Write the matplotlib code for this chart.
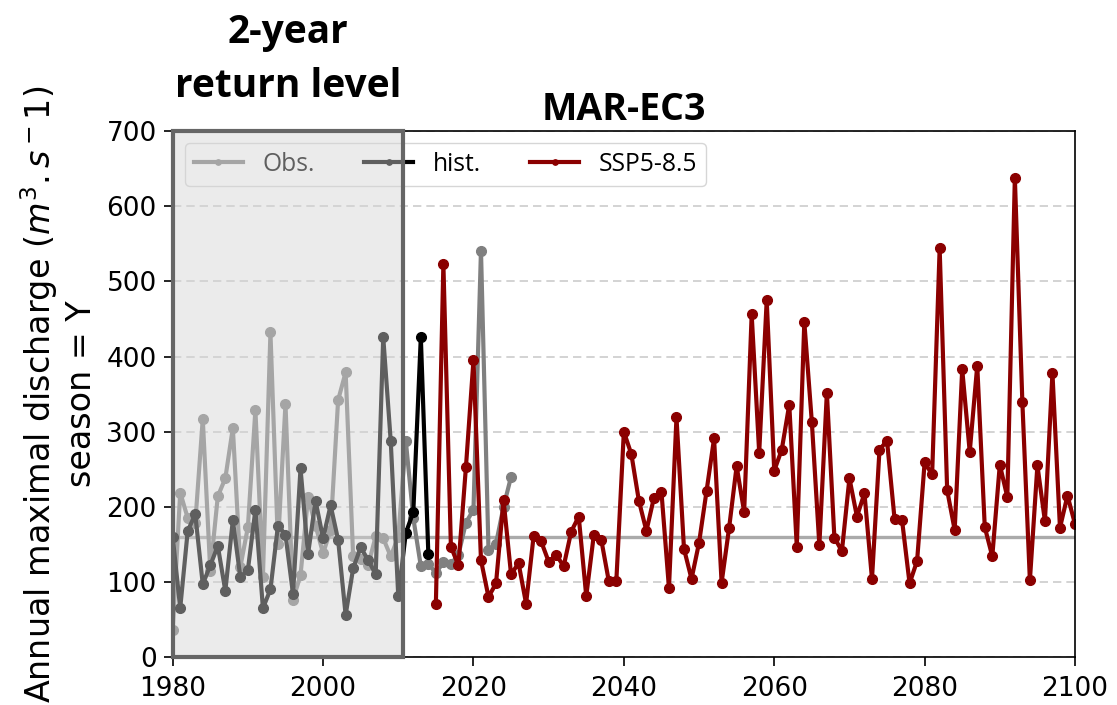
import numpy as np
import matplotlib
matplotlib.use("Agg")
import matplotlib.pyplot as plt
from matplotlib.patches import Rectangle

# Annual maxima of discharge, observations and model runs
years_obs = np.arange(1980, 2026)
obs = [36, 219, 185, 178, 317, 114, 214, 238, 305, 120,
       173, 329, 107, 432, 150, 337, 76, 109, 213, 175,
       138, 169, 342, 379, 134, 130, 122, 161, 158, 134,
       160, 288, 185, 121, 124, 112, 126, 124, 136, 179,
       196, 541, 142, 151, 200, 240]

years_hist = np.arange(1980, 2015)
hist = [160, 65, 168, 190, 97, 122, 148, 88, 182, 106,
        116, 196, 65, 90, 175, 163, 84, 251, 137, 208,
        158, 202, 156, 56, 118, 146, 129, 110, 426, 287,
        81, 165, 193, 426, 137]

years_ssp = np.arange(2015, 2101)
ssp585 = [70, 523, 147, 122, 253, 395, 129, 80, 98, 209,
          110, 125, 71, 161, 154, 127, 136, 121, 167, 187,
          81, 162, 156, 101, 101, 300, 270, 208, 168, 212,
          220, 92, 319, 144, 104, 152, 221, 291, 99, 172,
          254, 193, 456, 272, 475, 248, 276, 336, 147, 446,
          313, 149, 352, 159, 141, 238, 187, 218, 104, 276,
          288, 184, 182, 98, 128, 259, 243, 544, 222, 169,
          383, 273, 388, 173, 134, 256, 213, 638, 339, 102,
          255, 181, 378, 172, 215, 177]

# 2-year return level and the reference period it is fitted on
return_level = 160
ref_start, ref_end = 1980, 2010.6

fig = plt.figure(figsize=(11.17, 7.05), dpi=100)
ax = fig.add_axes([0.1546, 0.068, 0.8078, 0.746])

ax.axhline(return_level, color="#aaaaaa", lw=2.4, zorder=1.5)
ax.plot(years_obs, obs, color="gray", lw=3, marker="o", ms=7, label="Obs.")
ax.plot(years_hist, hist, color="black", lw=3, marker="o", ms=7, label="hist.")
ax.plot(years_ssp, ssp585, color="darkred", lw=3, marker="o", ms=7, label="SSP5-8.5")

ax.set_xlim(1980, 2100)
ax.set_ylim(0, 700)
ax.set_xticks(np.arange(1980, 2101, 20))
ax.set_yticks(np.arange(0, 701, 100))
ax.tick_params(labelsize=19, length=6.5, width=1.2)
ax.tick_params(axis="x", pad=7)
ax.tick_params(axis="y", pad=5)
ax.yaxis.grid(True, ls="--", color="#cccccc", lw=1.2, dashes=(5, 3))
ax.set_axisbelow(True)
for s in ax.spines.values():
    s.set_linewidth(1.2)

ax.set_ylabel("Annual maximal discharge ($m^3.s^-1$)\nseason = Y", fontsize=24, labelpad=6)
ax.set_title("MAR-EC3", fontsize=27, fontweight="bold", family="Open Sans", pad=8)

leg = ax.legend(loc="upper left", ncol=3, markerscale=0.55, borderpad=0.35,
                prop={"family": "Open Sans", "size": 17.7})

# shade the reference period on top of everything
rect = Rectangle((ref_start, 0), ref_end - ref_start, 700,
                 facecolor=(0.83, 0.83, 0.83, 0.45), edgecolor="#666666",
                 lw=3, zorder=6, clip_on=False)
ax.add_patch(rect)
ax.text((ref_start + ref_end) / 2, 733, "2-year\nreturn level", ha="center", va="bottom",
        fontsize=28, fontweight="bold", family="Open Sans", linespacing=1.5)

fig.savefig("out.png", dpi=100)
